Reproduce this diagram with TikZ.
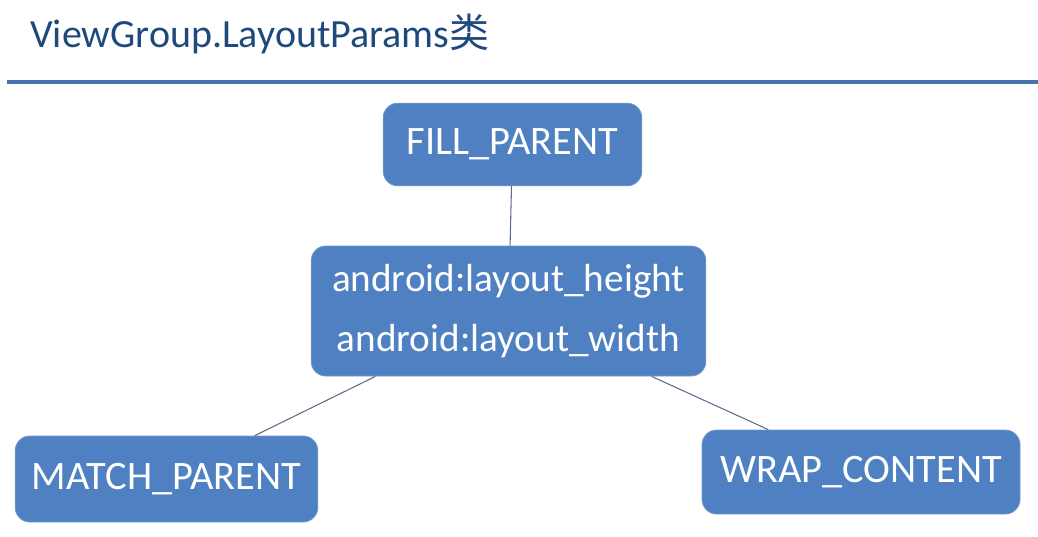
\documentclass[tikz,border=0pt]{standalone}
\usepackage{fontspec}
\setmainfont{Carlito}
\newfontfamily\cjk{Noto Sans CJK SC}
\usetikzlibrary{positioning}
\definecolor{titleblue}{HTML}{1F497D}
\definecolor{boxblue}{HTML}{4F80C2}
\definecolor{linkgray}{HTML}{5A6E8C}

\begin{document}
\begin{tikzpicture}[x=0.75pt, y=-0.75pt,
  box/.style={draw=boxblue!80!white, line width=0.6pt, rounded corners=11pt, fill=boxblue, text=white, align=center, inner sep=0pt},
  link/.style={draw=linkgray, line width=0.8pt}]
\useasboundingbox (0,0) rectangle (1038,536);

% title and rule
\node[anchor=base west, inner sep=0pt, text=titleblue, font=\fontsize{30}{34}\selectfont] (title) at (30,47) {ViewGroup.LayoutParams{\cjk 类}};
\draw[line width=3pt, draw=boxblue!90!black] (7,82) -- (1038,82);

% nodes
\node[box, minimum width=194pt, minimum height=62pt, font=\fontsize{30.3}{36}\selectfont] (fill) at (512.5,144.5) {FILL\_PARENT};
\node[box, minimum width=296pt, minimum height=97.5pt, font=\fontsize{29.4}{45}\selectfont] (attr) at (508.5,311) {android:layout\_height\\android:layout\_width};
\node[box, minimum width=227pt, minimum height=64.5pt, font=\fontsize{30.3}{36}\selectfont] (match) at (166.5,479) {MATCH\_PARENT};
\node[box, minimum width=238.5pt, minimum height=63pt, font=\fontsize{30.3}{36}\selectfont] (wrap) at (861,472) {WRAP\_CONTENT};

% links
\draw[link] (fill) -- (attr);
\draw[link] (attr) -- (match);
\draw[link] (attr) -- (wrap);
\end{tikzpicture}
\end{document}
